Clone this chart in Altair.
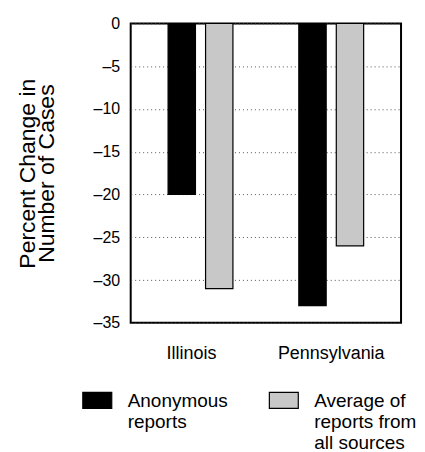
import altair as alt
import pandas as pd

states = ["Illinois", "Pennsylvania"]
series_labels = ["Anonymous|reports| ", "Average of|reports from|all sources"]
anonymous = [-20, -33]
average_all = [-31, -26]
y_ticks = [0, -5, -10, -15, -20, -25, -30, -35]

rows = []
for s, a, b in zip(states, anonymous, average_all):
    rows.append({"state": s, "series": series_labels[0], "value": a})
    rows.append({"state": s, "series": series_labels[1], "value": b})
df = pd.DataFrame(rows)

chart = alt.Chart(df).mark_bar(stroke="black", strokeWidth=1.2).encode(
    x=alt.X("state:N", sort=states,
            scale=alt.Scale(paddingInner=0.504, paddingOuter=0.286),
            axis=alt.Axis(title=None, labelAngle=0, ticks=False, tickSize=0, domain=False,
                          labelFontSize=18, labelPadding=22, labelColor="black",
                          labelOffset={"condition": {"test": "datum.value == 'Illinois'", "value": -9},
                                       "value": 0})),
    xOffset=alt.XOffset("series:N", sort=series_labels,
                        scale=alt.Scale(paddingInner=0.27, paddingOuter=0.0)),
    y=alt.Y("value:Q",
            scale=alt.Scale(domain=[-35, 0], nice=False, zero=False),
            axis=alt.Axis(values=y_ticks, title=["Percent Change in", "Number of Cases"],
                          titleFontSize=23, titleFontWeight="normal", titleLineHeight=19,
                          titleColor="black", titlePadding=35,
                          ticks=False, tickSize=0, domain=False, labelPadding=11,
                          labelFontSize=16, labelColor="black",
                          labelExpr="datum.value < 0 ? '\u2013' + abs(datum.value) : datum.label",
                          grid=True, gridDash=[1, 3], gridColor="#555", gridWidth=1)),
    color=alt.Color("series:N", sort=series_labels,
                    scale=alt.Scale(domain=series_labels, range=["#000000", "#c8c8c8"]),
                    legend=alt.Legend(title=None, orient="none", legendX=-49, legendY=369,
                                      direction="horizontal", columns=2, columnPadding=38,
                                      symbolType="M-1,-1.034L1,-1.034L1,0.069L-1,0.069Z",
                                      symbolSize=841, symbolStrokeColor="black",
                                      symbolStrokeWidth=1.2, symbolOpacity=1,
                                      labelOffset=15, labelFontSize=19, labelLimit=300,
                                      labelColor="black", labelBaseline="alphabetic",
                                      labelExpr="split(datum.label, '|')")),
).properties(
    width=271, height=300,
    padding={"left": 8, "top": 7, "right": 0, "bottom": 0},
).configure(
    font="Liberation Sans",
).configure_view(
    stroke="black", strokeWidth=2,
)

chart.save("out.html", embed_options={"renderer": "svg", "actions": False})
